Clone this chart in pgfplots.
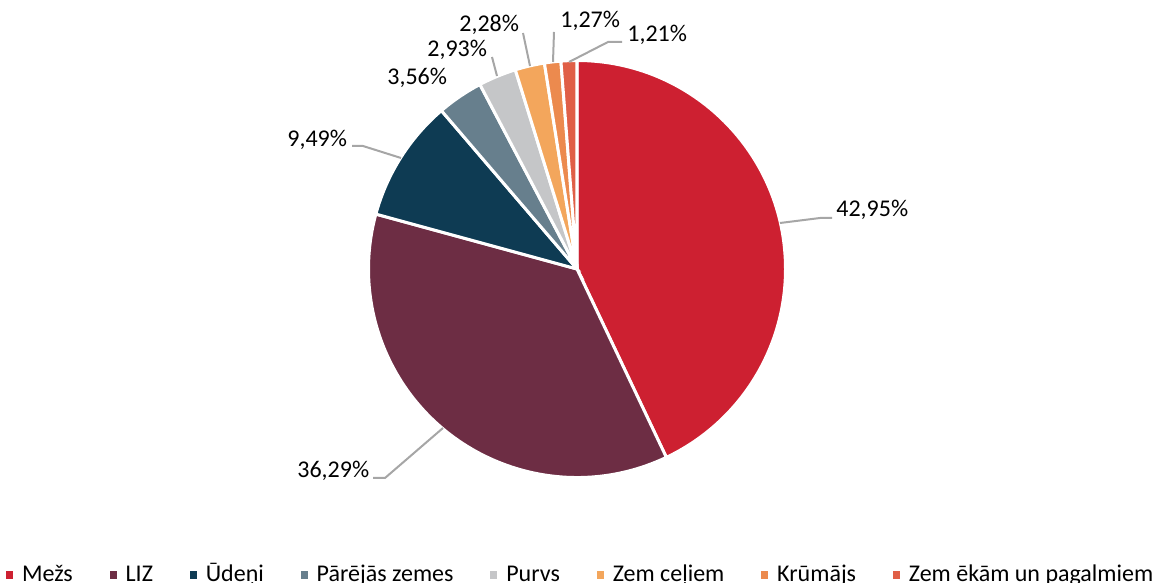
\documentclass[border=0pt]{standalone}
\usepackage{pgfplots}
\usepackage{pgfplotstable}
\pgfplotsset{compat=1.18}
\usepackage{fontspec}
\setmainfont{Carlito}
\definecolor{cMezs}{HTML}{CD2031}
\definecolor{cLIZ}{HTML}{6D2D44}
\definecolor{cUdeni}{HTML}{0E3B53}
\definecolor{cParejas}{HTML}{677F8D}
\definecolor{cPurvs}{HTML}{C5C6C8}
\definecolor{cCeli}{HTML}{F3A65C}
\definecolor{cKrumajs}{HTML}{EC8A4E}
\definecolor{cEkas}{HTML}{E05F47}
\definecolor{cLeader}{HTML}{A6A6A6}
\pgfplotstableread[col sep=comma]{
name,value,color
Mezs,42.95,cMezs
LIZ,36.29,cLIZ
Udeni,9.49,cUdeni
Parejas,3.56,cParejas
Purvs,2.93,cPurvs
Celi,2.28,cCeli
Krumajs,1.27,cKrumajs
Ekas,1.21,cEkas
}\piedata
\pgfplotsset{sqlegend/.style={legend image code/.code={%
  \fill[##1,draw=none] (0bp,-1.75bp) rectangle (3.5bp,1.75bp);
  \path[draw=none,fill=none] (0bp,-0.1bp) rectangle (8bp,0.1bp);}}}
\newcommand\lfont{\fontsize{12bp}{14bp}\selectfont}
% build pie slices from the table
\def\piecmds{}%
\def\cum{90}%
\pgfplotsforeachungrouped \i in {0,...,7}{%
  \pgfplotstablegetelem{\i}{value}\of\piedata \let\val\pgfplotsretval
  \pgfplotstablegetelem{\i}{color}\of\piedata \let\col\pgfplotsretval
  \pgfmathsetmacro\endang{\cum-3.6*\val}%
  \edef\piecmds{\unexpanded\expandafter{\piecmds}%
    \noexpand\fill[\col,draw=white,line width=1.5bp] (axis cs:577,-269) -- ++(\cum:104.25bp)
    arc[start angle=\cum,end angle=\endang,radius=104.25bp] -- cycle;}%
  \let\cum\endang
}
\begin{document}%
\begin{tikzpicture}
\begin{axis}[name=ax, hide axis, scale only axis,
  at={(0,0)}, anchor=south west,
  width=579bp, height=291.5bp,
  xmin=0, xmax=1158, ymin=-583, ymax=0, clip=false,
  legend columns=-1,
  legend style={draw=none, fill=none, inner sep=0pt, outer sep=0pt,
    at={(axis cs:6,-575)}, anchor=west, font=\lfont,
    nodes={inner sep=0pt, text height=9bp, text depth=3bp},
    /tikz/every even column/.append style={column sep=18.4bp}},
  legend cell align=left]
\piecmds
\addlegendimage{sqlegend, fill=cMezs}\addlegendentry{Mežs}
\addlegendimage{sqlegend, fill=cLIZ}\addlegendentry{LIZ}
\addlegendimage{sqlegend, fill=cUdeni}\addlegendentry{Ūdeņi}
\addlegendimage{sqlegend, fill=cParejas}\addlegendentry{Pārējās zemes}
\addlegendimage{sqlegend, fill=cPurvs}\addlegendentry{Purvs}
\addlegendimage{sqlegend, fill=cCeli}\addlegendentry{Zem ceļiem}
\addlegendimage{sqlegend, fill=cKrumajs}\addlegendentry{Krūmājs}
\addlegendimage{sqlegend, fill=cEkas}\addlegendentry{Zem ēkām un pagalmiem}
% leader lines
\draw[cLeader, line width=1bp] (axis cs:780,-223) -- (axis cs:820,-218) -- (axis cs:832,-218);
\draw[cLeader, line width=1bp] (axis cs:443,-428) -- (axis cs:385,-478) -- (axis cs:373,-478);
\draw[cLeader, line width=1bp] (axis cs:401,-158) -- (axis cs:363,-146) -- (axis cs:352,-146);
\draw[cLeader, line width=1bp] (axis cs:497,-76) -- (axis cs:492,-57);
\draw[cLeader, line width=1bp] (axis cs:530,-66) -- (axis cs:523,-33);
\draw[cLeader, line width=1bp] (axis cs:553,-62) -- (axis cs:554,-32);
\draw[cLeader, line width=1bp] (axis cs:569,-62) -- (axis cs:608,-42) -- (axis cs:622,-42);
% data labels
\begin{scope}[every node/.style={inner sep=0pt, anchor=base west, font=\lfont}]
\node at (axis cs:836,-217) {42,95\%};
\node at (axis cs:297,-478) {36,29\%};
\node at (axis cs:287,-147) {9,49\%};
\node at (axis cs:387,-85) {3,56\%};
\node at (axis cs:427,-57) {2,93\%};
\node at (axis cs:459,-32) {2,28\%};
\node at (axis cs:560,-28) {1,27\%};
\node at (axis cs:627,-42) {1,21\%};
\end{scope}
\end{axis}
\pgfresetboundingbox
\path[use as bounding box] (0,0) rectangle (579bp,291.5bp);
\end{tikzpicture}%
\end{document}
